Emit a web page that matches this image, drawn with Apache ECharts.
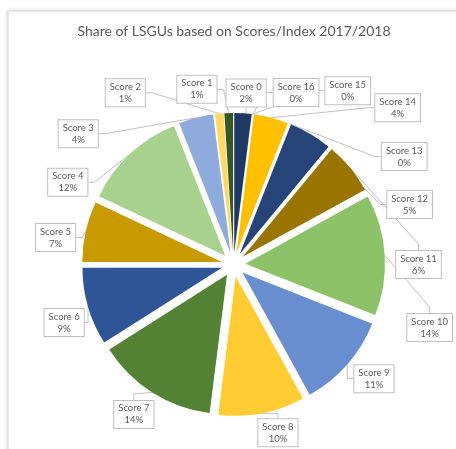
<!DOCTYPE html>
<html>
<head>
<meta charset="utf-8">
<script src="https://cdn.jsdelivr.net/npm/echarts@6/dist/echarts.min.js"></script>
<style>
  html, body { margin: 0; padding: 0; background: #ffffff; }
  #chart { width: 456px; height: 449px; }
</style>
</head>
<body>
<div id="chart"></div>
<script>
// Slices run clockwise from 12 o'clock in this order
const categories = ['Score 0', 'Score 16', 'Score 15', 'Score 14', 'Score 13', 'Score 12', 'Score 11',
  'Score 10', 'Score 9', 'Score 8', 'Score 7', 'Score 6', 'Score 5', 'Score 4', 'Score 3', 'Score 2', 'Score 1'];
// Share of LSGUs, in percent
const shares = [2, 0, 0, 4, 0, 5, 6, 14, 11, 10, 14, 9, 7, 12, 4, 1, 1];
const sliceColors = ['#203864', '#4472C4', '#FFC000', '#FFC000', '#70AD47', '#264478', '#9A7400',
  '#8CC168', '#698ED0', '#FFCD33', '#548235', '#2F5597', '#C99A00', '#A9D18E', '#8FAADC', '#FFD966', '#385723'];

// Callout placement: [bearing in degrees clockwise from 12 o'clock, distance from the pie centre]
const calloutSpots = [[4.2, 172], [20, 183], [33.3, 208], [46.3, 227], [57.7, 202], [71.2, 186], [90, 185],
  [107.8, 206], [129.1, 181], [165.2, 174], [213.6, 180], [251.1, 179], [278.6, 180], [296.4, 185],
  [310.1, 203], [327.8, 203], [348.2, 179]];

const CX = 233.5, CY = 264.5, R = 139.5;
const EXPLODE = 12;           // each slice is pulled out from the centre by this much
const FONT = 'Lato, "Open Sans", sans-serif';
const total = shares.reduce((s, v) => s + v, 0);

// One pie series per slice so every slice can be pulled out along its own bisector.
let cumulative = 0;
const sliceSeries = categories.map((name, i) => {
  const startDeg = cumulative / total * 360;
  cumulative += shares[i];
  const midRad = (startDeg + shares[i] / total * 180) * Math.PI / 180;
  const spot = calloutSpots[i];
  const spotRad = spot[0] * Math.PI / 180;
  return {
    type: 'pie',
    name: name,
    center: [CX + EXPLODE * Math.sin(midRad), CY - EXPLODE * Math.cos(midRad)],
    radius: [0, R],
    startAngle: 90 - startDeg,
    clockwise: true,
    avoidLabelOverlap: false,
    emphasis: { disabled: true },
    selectedMode: false,
    silent: true,
    itemStyle: { borderWidth: 0 },
    label: {
      show: true,
      position: 'outside',
      formatter: (p) => p.name + '\n' + p.value + '%',
      color: '#595959',
      fontFamily: FONT,
      fontSize: 9.5,
      lineHeight: 12,
      align: 'center',
      backgroundColor: '#ffffff',
      borderColor: '#bfbfbf',
      borderWidth: 1,
      padding: [2, 4, 1, 4]
    },
    labelLine: {
      show: true,
      length: 10,
      length2: 6,
      lineStyle: { color: '#bfbfbf', width: 1 }
    },
    labelLayout: () => ({
      x: CX + spot[1] * Math.sin(spotRad),
      y: CY - spot[1] * Math.cos(spotRad),
      align: 'center',
      verticalAlign: 'middle'
    }),
    data: [
      { name: name, value: shares[i], itemStyle: { color: sliceColors[i] } },
      {
        name: '', value: total - shares[i],
        itemStyle: { color: 'rgba(0,0,0,0)' },
        label: { show: false }, labelLine: { show: false }
      }
    ],
    z: 2
  };
});

const chart = echarts.init(document.getElementById('chart'), null, { renderer: 'canvas' });

chart.setOption({
  animation: false,
  backgroundColor: '#ffffff',
  graphic: [
    {
      type: 'rect',
      shape: { x: 8, y: 11, width: 470, height: 460 },
      style: { fill: '#ffffff', stroke: '#d9d9d9', lineWidth: 1,
        shadowBlur: 4, shadowColor: 'rgba(0,0,0,0.18)', shadowOffsetX: 0, shadowOffsetY: 0 },
      z: -10, silent: true
    },
    {
      type: 'text',
      x: 234, y: 31,
      style: {
        text: 'Share of LSGUs based on Scores/Index 2017/2018',
        fill: '#595959', font: '14px ' + FONT,
        align: 'center', verticalAlign: 'middle'
      },
      z: 5, silent: true
    }
  ],
  series: sliceSeries
});
</script>
</body>
</html>
